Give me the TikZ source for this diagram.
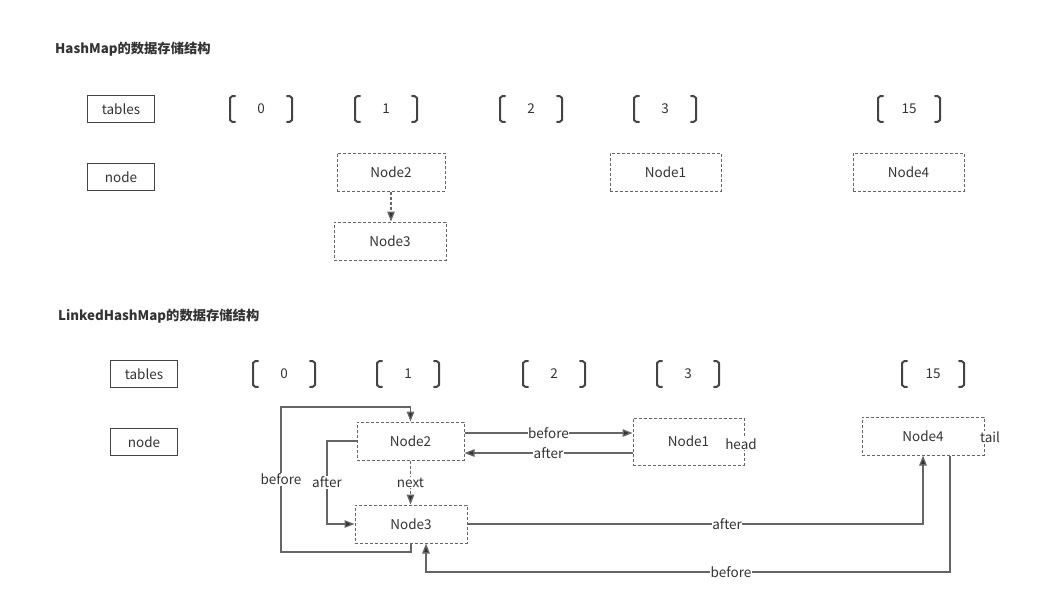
\documentclass[tikz,border=0pt]{standalone}
\usepackage{fontspec}
\setmainfont{Noto Sans CJK SC}
\usetikzlibrary{arrows.meta}
\definecolor{txt}{HTML}{333333}
\definecolor{ln}{HTML}{666666}
\definecolor{bx}{HTML}{444444}
\begin{document}
\begin{tikzpicture}[x=1pt,y=-1pt,
  every node/.style={text=txt,font=\fontsize{13.5}{15}\selectfont,inner sep=1pt},
  title/.style={font=\fontsize{13.3}{15}\selectfont\bfseries,anchor=west},
  rowbox/.style={draw=bx,line width=1.6pt,minimum width=67,minimum height=27},
  dnode/.style={draw=ln,line width=1pt,dash pattern=on 3pt off 2pt,minimum height=38},
  brkline/.style={draw=bx,line width=2pt,line cap=round,line join=round},
  conn/.style={draw=ln,line width=1.3pt},
  arr/.style={conn,-{Triangle[length=10pt,width=7.5pt,fill=txt]}},
  darr/.style={arr,dash pattern=on 3pt off 2pt},
  lbl/.style={fill=white,inner sep=0.5pt}
]
\useasboundingbox (0,0) rectangle (1041,597);
\newcommand\brk[4]{%
  \node (#4) at (#1,#2) {#3};
  \draw[brkline] (#1-26,#2-13) .. controls (#1-29,#2-13) .. (#1-31,#2-11) -- (#1-31,#2+11) .. controls (#1-29,#2+13) .. (#1-26,#2+13);
  \draw[brkline] (#1+26,#2-13) .. controls (#1+29,#2-13) .. (#1+31,#2-11) -- (#1+31,#2+11) .. controls (#1+29,#2+13) .. (#1+26,#2+13);
}
% ---------- HashMap ----------
\node[title] (t1) at (54,49) {HashMap的数据存储结构};
\node[rowbox] (tab1) at (121,109) {tables};
\node[rowbox] (nod1) at (121,177) {node};
\brk{261}{109}{0}{h0}
\brk{386}{109}{1}{h1}
\brk{531}{109}{2}{h2}
\brk{665}{109}{3}{h3}
\brk{909}{109}{15}{h15}
\node[dnode,minimum width=108] (a2) at (391,172) {Node2};
\node[dnode,minimum width=112] (a3) at (390,241) {Node3};
\node[dnode,minimum width=111] (a1) at (665.5,172) {Node1};
\node[dnode,minimum width=111] (a4) at (908.5,172) {Node4};
\draw[darr] (a2.south) -- (a2.south |- a3.north);
% ---------- LinkedHashMap ----------
\node[title] (t2) at (57,316) {LinkedHashMap的数据存储结构};
\node[rowbox] (tab2) at (144,374) {tables};
\node[rowbox] (nod2) at (144,442) {node};
\brk{284}{374}{0}{l0}
\brk{408}{374}{1}{l1}
\brk{554}{374}{2}{l2}
\brk{688}{374}{3}{l3}
\brk{933}{374}{15}{l15}
\node[dnode,minimum width=107] (n2) at (410.5,441) {Node2};
\node[dnode,minimum width=112] (n3) at (411,524) {Node3};
\node[dnode,minimum width=111,minimum height=47] (n1) at (688.5,441.5) {Node1};
\node[dnode,minimum width=122] (n4) at (923,436) {Node4};
\node[fill=white,inner sep=0.5pt] (hd) at (741,444) {head};
\node[fill=white,inner sep=0.5pt] (tl) at (990,437) {tail};
% before loop (Node3 -> Node2)
\coordinate (b1) at (281,552);
\coordinate (b2) at (281,407);
\draw[arr] (n3.south) |- (b1) -- node[lbl,pos=0.5]{before} (b2) -| (n2.north);
% after loop (Node2 -> Node3)
\coordinate (c1) at (327,441);
\draw[arr] (n2.west) -- (c1) |- node[lbl,pos=0.25]{after} (n3.west);
% next
\draw[darr] (n2.south) -- node[lbl]{next} (n2.south |- n3.north);
% Node2 <-> Node1
\coordinate (p1) at ([yshift=8pt]n2.east);
\coordinate (p2) at ([yshift=-12pt]n2.east);
\draw[arr] (p1) -- node[lbl]{before} (p1 -| n1.west);
\draw[arr] (p2 -| n1.west) -- node[lbl]{after} (p2);
% Node3 -> Node4 after
\draw[arr] (n3.east) -| node[lbl,pos=0.285]{after} (n4.south);
% Node4 -> Node3 before
\coordinate (q1) at ([xshift=27pt]n4.south);
\coordinate (q2) at ([xshift=15pt]n3.south);
\coordinate (q3) at (950,572);
\draw[arr] (q1) -- (q3) -| node[lbl,pos=0.209]{before} (q2);
\end{tikzpicture}
\end{document}
